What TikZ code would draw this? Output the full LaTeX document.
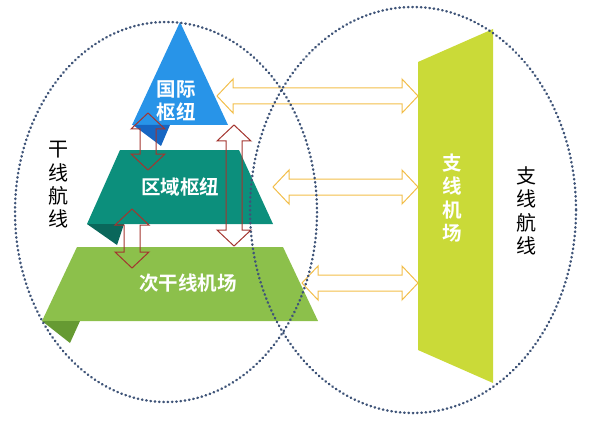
\documentclass[tikz,border=0pt]{standalone}
\usepackage{fontspec}
\newfontfamily\cjk{Noto Sans CJK SC}
\newfontfamily\cjkbf{Noto Sans CJK SC Bold}
\usetikzlibrary{calc}

\definecolor{intlblue}{HTML}{2894E8}
\definecolor{intlfold}{HTML}{1766C2}
\definecolor{regteal}{HTML}{0C8F7C}
\definecolor{regfold}{HTML}{0A675B}
\definecolor{secgreen}{HTML}{8CC04B}
\definecolor{secfold}{HTML}{669A32}
\definecolor{feedlime}{HTML}{CADA38}
\definecolor{ringslate}{HTML}{3F5478}
\definecolor{linkgold}{HTML}{F2BE4A}
\definecolor{linkred}{HTML}{A3352F}

\tikzstyle{pixfig}=[x=1pt,y=-1pt]
\tikzstyle{ring}=[draw=ringslate,line width=2.5pt,line cap=round,dash pattern=on 0.5pt off 3.8pt]
\tikzstyle{tiername}=[text=white,font=\cjkbf\fontsize{19.5}{23.5}\selectfont,align=center,inner sep=0pt]
\tikzstyle{routename}=[text=black,font=\cjk\fontsize{20}{23.3}\selectfont,align=center,inner sep=0pt]
\tikzstyle{goldlink}=[draw=linkgold,line width=1pt]
\tikzstyle{redlink}=[draw=linkred,line width=1pt]

\newcommand{\hollowarrow}[3]{%
\draw[#1] (#2) -- ($(#2)!16pt!(#3)!17pt!90:(#3)$) -- ($(#2)!16pt!(#3)!8pt!90:(#3)$)
 -- ($(#3)!16pt!(#2)!8pt!-90:(#2)$) -- ($(#3)!16pt!(#2)!17pt!-90:(#2)$) -- (#3)
 -- ($(#3)!16pt!(#2)!17pt!90:(#2)$) -- ($(#3)!16pt!(#2)!8pt!90:(#2)$)
 -- ($(#2)!16pt!(#3)!8pt!-90:(#3)$) -- ($(#2)!16pt!(#3)!17pt!-90:(#3)$) -- cycle;}

\begin{document}
\begin{tikzpicture}[style=pixfig]
\useasboundingbox (0,0) rectangle (593,422);

\fill[intlblue] (180,22) -- (228,125) -- (132,125) -- cycle;
\fill[intlfold] (133,125) -- (170,125) -- (161,146) -- cycle;

\fill[regteal] (120,150) -- (239,150) -- (273,224) -- (87,224) -- cycle;
\fill[regfold] (87,224) -- (124,224) -- (117,245) -- cycle;

\fill[secgreen] (77,247) -- (283,247) -- (318,321) -- (42,321) -- cycle;
\fill[secfold] (42,321) -- (80,321) -- (70,343) -- cycle;

\fill[feedlime] (418,62) -- (493,29) -- (493,383) -- (418,350) -- cycle;

\node[tiername] (intl) at (176,101) {国际\\枢纽};
\node[tiername] (regional) at (180,187) {区域枢纽};
\node[tiername] (secondary) at (188,283) {次干线机场};
\node[tiername] (feeder) at (452,198) {支\\线\\机\\场};

\node[routename] (trunk) at (58,185) {干\\线\\航\\线};
\node[routename] (branch) at (526,211) {支\\线\\航\\线};

\coordinate (intl-e) at (217,96);
\coordinate (feeder-w1) at (418,96);
\coordinate (regional-e) at (273,187);
\coordinate (feeder-w2) at (418,187);
\coordinate (secondary-e) at (302,283);
\coordinate (feeder-w3) at (418,283);

\coordinate (intl-s) at (148,113);
\coordinate (regional-n) at (148,170);
\coordinate (regional-s) at (132,209);
\coordinate (secondary-n) at (132,268);
\coordinate (intl-se) at (234,125);
\coordinate (secondary-ne) at (234,246);

\hollowarrow{goldlink}{intl-e}{feeder-w1}
\hollowarrow{goldlink}{regional-e}{feeder-w2}
\hollowarrow{goldlink}{secondary-e}{feeder-w3}

\hollowarrow{redlink}{intl-s}{regional-n}
\hollowarrow{redlink}{regional-s}{secondary-n}
\hollowarrow{redlink}{intl-se}{secondary-ne}

\draw[ring] (166,212) ellipse [x radius=151, y radius=190];
\draw[ring] (413,210) ellipse [x radius=163, y radius=203];
\end{tikzpicture}
\end{document}
